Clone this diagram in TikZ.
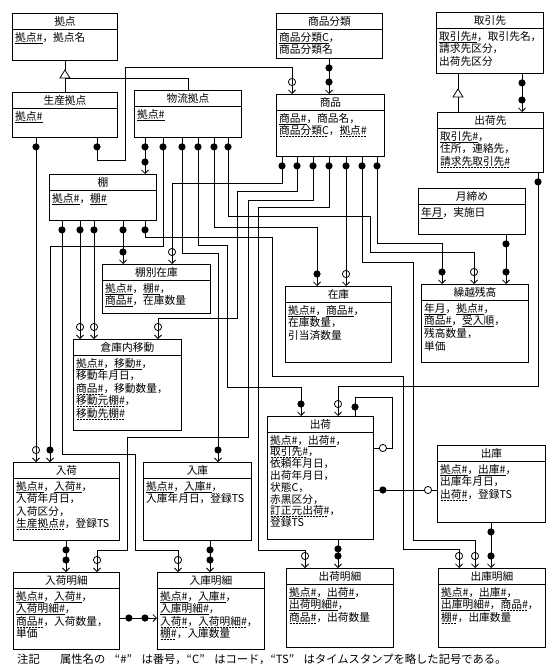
\documentclass[tikz,border=0pt]{standalone}
\usepackage{fontspec}
\setmainfont{Noto Sans CJK JP}
\usetikzlibrary{arrows.meta,decorations.markings}

\newcommand\sul[1]{\setbox0=\hbox{#1}\rlap{\raisebox{-2pt}[0pt][0pt]{\rule{\wd0}{0.5pt}}}\box0}
\newcommand\dul[1]{\setbox0=\hbox{#1}\rlap{\raisebox{-2pt}[0pt][0pt]{\hbox to \wd0{\leaders\hbox to 3pt{\hfil\rule{2pt}{0.5pt}\hfil}\hfill}}}\box0}
\newcommand\qs{\hspace{0.85em}}

\tikzset{
  ebox/.style={draw, line width=0.9pt, inner sep=0pt, rectangle},
  rel/.style={line width=0.8pt, -{Straight Barb[length=3.5pt,width=7pt,line width=0.8pt]}},
  plain/.style={line width=0.8pt},
  mS/.style={postaction={decorate,decoration={markings,mark=at position 9pt with {\fill (0,0) circle[radius=3.6pt];}}}},
  mF/.style={postaction={decorate,decoration={markings,mark=at position -12pt with {\fill (0,0) circle[radius=3.6pt];}}}},
  mO/.style={postaction={decorate,decoration={markings,mark=at position -12pt with {\draw[line width=0.8pt] (0,0) circle[radius=3.6pt];}}}},
  mOe/.style={postaction={decorate,decoration={markings,mark=at position -9pt with {\draw[line width=0.8pt, fill=white] (0,0) circle[radius=3.6pt];}}}},
}

\newcommand\ent[8]{%
  \node[ebox, minimum width=#4pt, minimum height=#5pt, anchor=north west] (#1) at (#2,#3) {};
  \draw[line width=0.9pt] ([yshift=-16pt]#1.north west) -- ([yshift=-16pt]#1.north east);
  \node[inner sep=0pt, font=\fontsize{10.7}{12}\selectfont] (#1t) at ([yshift=-8pt]#1.north) {#6};
  \node[anchor=north west, align=left, inner sep=0pt, font=\fontsize{10.7}{#8}\selectfont] (#1a) at ([xshift=3pt,yshift=-19pt]#1.north west) {#7};
}

\begin{document}
\begin{tikzpicture}[x=1pt,y=-1pt]
\fill[white] (0,0) rectangle (554,671);
\path[use as bounding box] (0,0) rectangle (554,671);

% entities
\ent{kyoten}{12}{13}{105}{47}{拠点}{\sul{拠点\#}，拠点名}{12.6}
\ent{seisan}{12}{92}{105}{45}{生産拠点}{\sul{拠点\#}}{12.6}
\ent{butsuryu}{134}{90}{107}{47}{物流拠点}{\sul{拠点\#}}{12.6}
\ent{bunrui}{276}{13}{106}{45}{商品分類}{\sul{商品分類C}，\\商品分類名}{12.6}
\ent{shohin}{276}{94}{108}{62}{商品}{\sul{商品\#}，商品名，\\\dul{商品分類C}，\dul{拠点\#}}{12.6}
\ent{torihiki}{436}{12}{107}{61}{取引先}{\sul{取引先\#}，取引先名，\\請求先区分，\\出荷先区分}{12.6}
\ent{shukkasaki}{437}{112}{106}{60}{出荷先}{\sul{取引先\#}，\\住所，連絡先，\\\dul{請求先取引先\#}}{12.6}
\ent{tsukijime}{418}{188}{107}{46}{月締め}{\sul{年月}，実施日}{12.6}
\ent{tana}{49}{174}{107}{46}{棚}{\sul{拠点\#}，\sul{棚\#}}{12.6}
\ent{tanazaiko}{102}{264}{108}{49}{棚別在庫}{\sul{拠点\#}，\sul{棚\#}，\\\sul{商品\#}，在庫数量}{12.6}
\ent{zaiko}{285}{286}{106}{76}{在庫}{\sul{拠点\#}，\sul{商品\#}，\\在庫数量，\\引当済数量}{12.6}
\ent{kurikoshi}{421}{284}{107}{78}{繰越残高}{\sul{年月}，\sul{拠点\#}，\\\sul{商品\#}，\sul{受入順}，\\残高数量，\\単価}{12.6}
\ent{idou}{73}{339}{108}{91}{倉庫内移動}{\sul{拠点\#}，\sul{移動\#}，\\移動年月日，\\\dul{商品\#}，移動数量，\\\dul{移動元棚\#}，\\\dul{移動先棚\#}}{12.6}
\ent{nyuka}{13}{462}{106}{78}{入荷}{\sul{拠点\#}，\sul{入荷\#}，\\入荷年月日，\\入荷区分，\\\dul{生産拠点\#}，登録TS}{12.6}
\ent{nyuko}{143}{462}{108}{78}{入庫}{\sul{拠点\#}，\sul{入庫\#}，\\入庫年月日，登録TS}{12.6}
\ent{shukka}{267}{416}{106}{123}{出荷}{\sul{拠点\#}，\sul{出荷\#}，\\\dul{取引先\#}，\\依頼年月日，\\出荷年月日，\\状態C，\\赤黒区分，\\\dul{訂正元出荷\#}，\\登録TS}{11.8}
\ent{shukko}{437}{445}{108}{77}{出庫}{\sul{拠点\#}，\sul{出庫\#}，\\出庫年月日，\\\dul{出荷\#}，登録TS}{12.6}
\ent{nyukameisai}{13}{572}{106}{77}{入荷明細}{\sul{拠点\#}，\sul{入荷\#}，\\\sul{入荷明細\#}，\\\dul{商品\#}，入荷数量，\\単価}{12.6}
\ent{nyukomeisai}{157}{572}{107}{77}{入庫明細}{\sul{拠点\#}，\sul{入庫\#}，\\\sul{入庫明細\#}，\\\dul{入荷\#}，\dul{入荷明細\#}，\\\dul{棚\#}，入庫数量}{12.6}
\ent{shukkameisai}{286}{568}{107}{79}{出荷明細}{\sul{拠点\#}，\sul{出荷\#}，\\\sul{出荷明細\#}，\\\dul{商品\#}，出荷数量}{12.6}
\ent{shukkomeisai}{438}{568}{107}{79}{出庫明細}{\sul{拠点\#}，\sul{出庫\#}，\\\sul{出庫明細\#}，\dul{商品\#}，\\\dul{棚\#}，出庫数量}{12.6}

% generalizations
\coordinate (g1) at (kyoten.south |- 0,78);
\draw[plain] (kyoten.south) -- ([yshift=8pt]g1);
\draw[plain, fill=white] ([yshift=8pt]g1) -- ([xshift=-5pt]g1) -- ([xshift=5pt]g1) -- cycle;
\draw[plain] (g1) -- (seisan.north);
\draw[plain] (g1) -| (butsuryu.north);
\coordinate (g2) at (458,97);
\draw[plain] (torihiki.south -| g2) -- ([yshift=8pt]g2);
\draw[plain, fill=white] ([yshift=8pt]g2) -- ([xshift=-5pt]g2) -- ([xshift=5pt]g2) -- cycle;
\draw[plain] (g2) -- (shukkasaki.north -| g2);

% relationships
\draw[rel,mS,mF] (bunrui.south -| 329,0) -- (shohin.north -| 329,0);
\draw[rel,mS,mF] (torihiki.south -| 522,0) -- (shukkasaki.north -| 522,0);
\draw[rel,mS,mO] (seisan.south -| 97,0) |- (125,160) |- (292,67) -- (shohin.north -| 292,0);
\draw[rel,mS,mO] (seisan.south -| 36,0) -- (nyuka.north -| 36,0);
\draw[rel,mS,mF] (butsuryu.south -| 145,0) -- (tana.north -| 145,0);
\draw[rel,mS,mF] (butsuryu.south -| 163,0) |- (50,246) -- (nyuka.north -| 50,0);
\draw[rel,mS,mF] (butsuryu.south -| 182,0) |- (218,253) -- (nyuko.north -| 218,0);
\draw[rel,mS,mF] (butsuryu.south -| 198,0) |- (227,245) |- (301,387) -- (shukka.north -| 301,0);
\draw[rel,mS,mF] (butsuryu.south -| 214,0) |- (317,227) -- (zaiko.north -| 317,0);
\draw[rel,mS,mO] (butsuryu.south -| 228,0) |- (370,216) |- (474,252) -- (kurikoshi.north -| 474,0);
\draw[rel,mS,mF] (tana.south -| 123,0) -- (tanazaiko.north -| 123,0);
\draw[rel,mS,mO] (tana.south -| 80,0) -- (idou.north -| 80,0);
\draw[rel,mS,mO] (tana.south -| 94,0) -- (idou.north -| 94,0);
\draw[rel,mS,mO] (tana.south -| 62,0) |- (135,454) |- (178,550) -- (nyukomeisai.north -| 178,0);
\draw[rel,mS,mO] (tana.south -| 145,0) |- (272,237) |- (403,376) |- (459,549) -- (shukkomeisai.north -| 459,0);
\draw[rel,mS,mO] (shohin.south -| 282,0) |- (172,183) -- (tanazaiko.north -| 172,0);
\draw[rel,mS,mO] (shohin.south -| 297,0) |- (237,191) |- (158,318) -- (idou.north -| 158,0);
\draw[rel,mS,mO] (shohin.south -| 313,0) |- (248,200) |- (127,437) |- (97,550) -- (nyukameisai.north -| 97,0);
\draw[rel,mS,mO] (shohin.south -| 329,0) |- (258,207) |- (305,550) -- (shukkameisai.north -| 305,0);
\draw[rel,mS,mO] (shohin.south -| 346,0) -- (zaiko.north -| 346,0);
\draw[rel,mS,mO] (shohin.south -| 362,0) |- (413,262) |- (475,540) -- (shukkomeisai.north -| 475,0);
\draw[rel,mS,mF] (shohin.south -| 377,0) |- (442,243) -- (kurikoshi.north -| 442,0);
\draw[rel,mS,mF] (tsukijime.south -| 506,0) -- (kurikoshi.north -| 506,0);
\draw[rel,mS,mO] (shukkasaki.south -| 538,0) |- (338,386) -- (shukka.north -| 338,0);
\draw[plain,mS,mOe] (shukka.north -| 355,0) |- (392,397) |- (shukka.east |- 0,448);
\draw[plain,mS,mOe] (shukka.east |- 0,490) -- (shukko.west |- 0,490);
\draw[rel,mS,mF] (nyuka.south -| 66,0) -- (nyukameisai.north -| 66,0);
\draw[rel,mS,mF] (nyuko.south -| 210,0) -- (nyukomeisai.north -| 210,0);
\draw[rel,mS,mF] (shukka.south -| 338,0) -- (shukkameisai.north -| 338,0);
\draw[rel,mS,mF] (shukko.south -| 491,0) -- (shukkomeisai.north -| 491,0);
\draw[rel,mS,mF] (nyukameisai.east |- 0,618) -- (nyukomeisai.west |- 0,618);

\node[anchor=west, inner sep=0pt, font=\fontsize{11.3}{13}\selectfont] (note) at (17,659) {注記\hspace{1.8em}属性名の\qs“\#”\qs は番号，“C”\qs はコード，“TS”\qs はタイムスタンプを略した記号である。};
\end{tikzpicture}
\end{document}
